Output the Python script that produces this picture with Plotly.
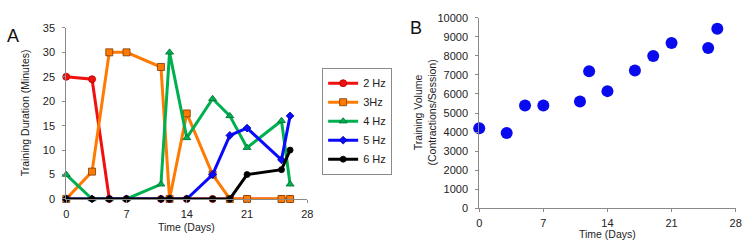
import plotly.graph_objects as go

days = [0, 3, 5, 7, 11, 12, 14, 17, 19, 21, 25, 26]
hz2 = [25, 24.5, 0, 0, 0, 0, 0, 0, 0, 0, 0, 0]
hz3 = [0, 5.6, 30, 30, 27, 0, 17.5, 5, 0, 0, 0, 0]
hz4 = [5, 0, 0, 0, 3, 30, 12.5, 20.5, 17, 10.5, 16, 3]
hz5 = [0, 0, 0, 0, 0, 0, 0, 5, 13, 14.5, 8, 17]
hz6 = [0, 0, 0, 0, 0, 0, 0, 0, 0, 5, 6, 10]
volume = [4200, 3950, 5400, 5400, 5600, 7200, 6150, 7230, 8000, 8680, 8420, 9430]

x_ticks = [0, 7, 14, 21, 28]
a_ticks = list(range(0, 36, 5))
b_ticks = list(range(0, 10001, 1000))

series = [
    ("2 Hz", hz2, "#f01010", "circle", 7, "#b00000"),
    ("3Hz", hz3, "#ff7a00", "square", 7, "#7a3a00"),
    ("4 Hz", hz4, "#00b050", "triangle-up", 7, "#006b30"),
    ("5 Hz", hz5, "#0a0aff", "diamond", 6, "#0000a0"),
    ("6 Hz", hz6, "#000000", "circle", 6, "#000000"),
]

FONT = "Liberation Sans, Arial, sans-serif"
fig = go.Figure()
for name, vals, col, sym, sz, lc in series:
    fig.add_trace(go.Scatter(
        x=days, y=vals, name=name, mode="lines+markers",
        line=dict(color=col, width=3),
        marker=dict(symbol=sym, size=sz, color=col, line=dict(color=lc, width=0.8)),
        cliponaxis=False, xaxis="x", yaxis="y"))

fig.add_trace(go.Scatter(
    x=days, y=volume, mode="markers", showlegend=False,
    marker=dict(size=12, color="#0a0aee", line=dict(width=0)),
    cliponaxis=False, xaxis="x2", yaxis="y2"))

GRAY = "#8a8a8a"
tickfont = dict(family=FONT, size=11, color="#222")
axis_common = dict(showline=True, linecolor=GRAY, linewidth=1, ticks="outside",
                   tickcolor=GRAY, ticklen=3, showgrid=False, zeroline=False,
                   tickfont=tickfont)
overlay_common = dict(showline=False, ticks="inside", tickcolor=GRAY, ticklen=3,
                      showgrid=False, zeroline=False, showticklabels=False)

xA = [64/753, 308/753]
yA = [1-202.7/250, 1-23/250]
xB = [482/753, 741.5/753]
yB = [1-212.3/250, 1-12.5/250]

fig.update_layout(
    width=753, height=250, margin=dict(l=0, r=0, t=0, b=0),
    paper_bgcolor="white", plot_bgcolor="white",
    font=dict(family=FONT, size=11, color="#222"),
    xaxis=dict(domain=xA, range=[0, 28], tickvals=x_ticks, anchor="y",
               ticklabelstandoff=2, **axis_common),
    yaxis=dict(domain=yA, range=[0, 35], tickvals=a_ticks, anchor="x",
               ticklabelstandoff=5, **axis_common),
    xaxis2=dict(domain=xB, range=[0, 28], tickvals=x_ticks, anchor="y2",
                ticklabelstandoff=2, **axis_common),
    yaxis2=dict(domain=yB, range=[0, 10000], tickvals=b_ticks,
                ticktext=[str(v) for v in b_ticks], anchor="x2",
                ticklabelstandoff=5, **axis_common),
    xaxis3=dict(domain=xA, range=[0, 28], tickvals=x_ticks, anchor="y",
                overlaying="x", **overlay_common),
    yaxis3=dict(domain=yA, range=[0, 35], tickvals=a_ticks, anchor="x",
                overlaying="y", **overlay_common),
    xaxis4=dict(domain=xB, range=[0, 28], tickvals=x_ticks, anchor="y2",
                overlaying="x2", **overlay_common),
    yaxis4=dict(domain=yB, range=[0, 10000], tickvals=b_ticks, anchor="x2",
                overlaying="y2", **overlay_common),
    legend=dict(x=323/753, y=1-121/250, xanchor="left", yanchor="middle",
                bordercolor=GRAY, borderwidth=1, bgcolor="white",
                font=dict(family=FONT, size=11, color="#222"), itemwidth=30,
                tracegroupgap=0),
    annotations=[
        dict(text="A", x=10/753, y=1-31/250, xref="paper", yref="paper", showarrow=False,
             font=dict(family=FONT, size=18, color="#111"), xanchor="center", yanchor="middle"),
        dict(text="B", x=418/753, y=1-23/250, xref="paper", yref="paper", showarrow=False,
             font=dict(family=FONT, size=18, color="#111"), xanchor="center", yanchor="middle"),
        dict(text="Training Duration (Minutes)", x=22/753, y=1-112/250, xref="paper", yref="paper",
             showarrow=False, textangle=-90, font=dict(family=FONT, size=10.5, color="#222"),
             xanchor="center", yanchor="middle"),
        dict(text="Time (Days)", x=186/753, y=1-232/250, xref="paper", yref="paper",
             showarrow=False, font=dict(family=FONT, size=10.5, color="#222"),
             xanchor="center", yanchor="middle"),
        dict(text="Training Volume<br>(Contractions/Session)", x=427/753, y=1-112/250,
             xref="paper", yref="paper", showarrow=False, textangle=-90,
             font=dict(family=FONT, size=10.5, color="#222"), xanchor="center", yanchor="middle"),
        dict(text="Time (Days)", x=612/753, y=1-240/250, xref="paper", yref="paper",
             showarrow=False, font=dict(family=FONT, size=10.5, color="#222"),
             xanchor="center", yanchor="middle"),
    ],
)

fig.write_html("out.html")
